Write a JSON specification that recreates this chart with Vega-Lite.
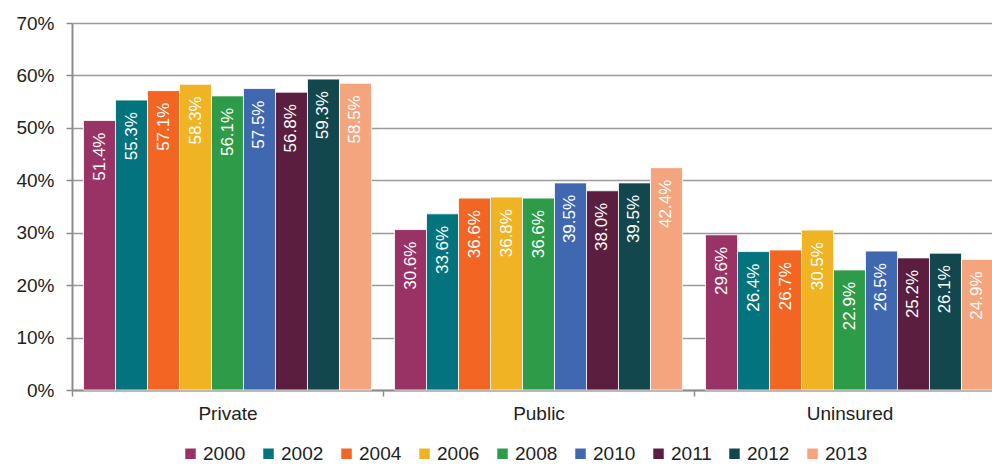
{
  "$schema": "https://vega.github.io/schema/vega-lite/v6.json",
  "width": 920,
  "height": 367,
  "autosize": {"type": "none"},
  "padding": {"left": 72, "top": 23, "right": 0, "bottom": 76},
  "background": "white",
  "config": {
    "font": "Liberation Sans",
    "view": {"stroke": null}
  },
  "data": {"values": [
    {"cat": "Private", "year": "2000", "v": 0.514},
    {"cat": "Private", "year": "2002", "v": 0.553},
    {"cat": "Private", "year": "2004", "v": 0.571},
    {"cat": "Private", "year": "2006", "v": 0.583},
    {"cat": "Private", "year": "2008", "v": 0.561},
    {"cat": "Private", "year": "2010", "v": 0.575},
    {"cat": "Private", "year": "2011", "v": 0.568},
    {"cat": "Private", "year": "2012", "v": 0.593},
    {"cat": "Private", "year": "2013", "v": 0.585},
    {"cat": "Public", "year": "2000", "v": 0.306},
    {"cat": "Public", "year": "2002", "v": 0.336},
    {"cat": "Public", "year": "2004", "v": 0.366},
    {"cat": "Public", "year": "2006", "v": 0.368},
    {"cat": "Public", "year": "2008", "v": 0.366},
    {"cat": "Public", "year": "2010", "v": 0.395},
    {"cat": "Public", "year": "2011", "v": 0.380},
    {"cat": "Public", "year": "2012", "v": 0.395},
    {"cat": "Public", "year": "2013", "v": 0.424},
    {"cat": "Uninsured", "year": "2000", "v": 0.296},
    {"cat": "Uninsured", "year": "2002", "v": 0.264},
    {"cat": "Uninsured", "year": "2004", "v": 0.267},
    {"cat": "Uninsured", "year": "2006", "v": 0.305},
    {"cat": "Uninsured", "year": "2008", "v": 0.229},
    {"cat": "Uninsured", "year": "2010", "v": 0.265},
    {"cat": "Uninsured", "year": "2011", "v": 0.252},
    {"cat": "Uninsured", "year": "2012", "v": 0.261},
    {"cat": "Uninsured", "year": "2013", "v": 0.249}
  ]},
  "encoding": {
    "x": {
      "field": "cat", "type": "nominal",
      "scale": {"range": [0, 933], "paddingInner": 0, "paddingOuter": 0},
      "axis": {
        "title": null, "labelAngle": 0, "labelPadding": 8,
        "labelFont": "Liberation Sans", "labelFontSize": 19, "labelColor": "#222",
        "domainColor": "#8c8c8c", "domainWidth": 2,
        "tickBand": "extent", "tickColor": "#8c8c8c", "tickWidth": 1.5, "tickSize": 6
      }
    },
    "xOffset": {"field": "year", "type": "nominal", "scale": {"paddingInner": 0, "paddingOuter": 0.36}},
    "y": {
      "field": "v", "type": "quantitative",
      "scale": {"domain": [0, 0.7], "nice": false},
      "axis": {
        "title": null, "format": ".0%", "values": [0, 0.1, 0.2, 0.3, 0.4, 0.5, 0.6, 0.7],
        "labelOverlap": false,
        "labelFont": "Liberation Sans", "labelFontSize": 19, "labelColor": "#222",
        "domainColor": "#8c8c8c", "domainWidth": 2,
        "tickColor": "#8c8c8c", "tickWidth": 1.5, "tickSize": 6, "labelPadding": 12,
        "grid": true, "gridColor": "#9a9a9a", "gridWidth": 1.5
      }
    }
  },
  "layer": [
    {
      "mark": {"type": "bar", "stroke": "white", "strokeWidth": 0.8},
      "encoding": {
        "color": {
          "field": "year", "type": "nominal",
          "scale": {
            "domain": ["2000", "2002", "2004", "2006", "2008", "2010", "2011", "2012", "2013"],
            "range": ["#993366", "#03747d", "#f26522", "#f0b323", "#2e9b48", "#3f68b1", "#5c1e3e", "#12474e", "#f4a57e"]
          },
          "legend": {
            "title": null, "orient": "none", "direction": "horizontal",
            "legendX": 109, "legendY": 421,
            "symbolType": "square", "symbolSize": 110, "symbolStrokeWidth": 0,
            "labelFontSize": 19, "labelFont": "Liberation Sans", "labelColor": "#222",
            "columnPadding": 13, "labelOffset": 3
          }
        }
      }
    },
    {
      "mark": {"type": "text", "angle": -90, "align": "right", "baseline": "middle", "dx": -12, "color": "white", "fontSize": 17, "font": "Liberation Sans"},
      "encoding": {
        "text": {"field": "v", "type": "quantitative", "format": ".1%"}
      }
    }
  ]
}
